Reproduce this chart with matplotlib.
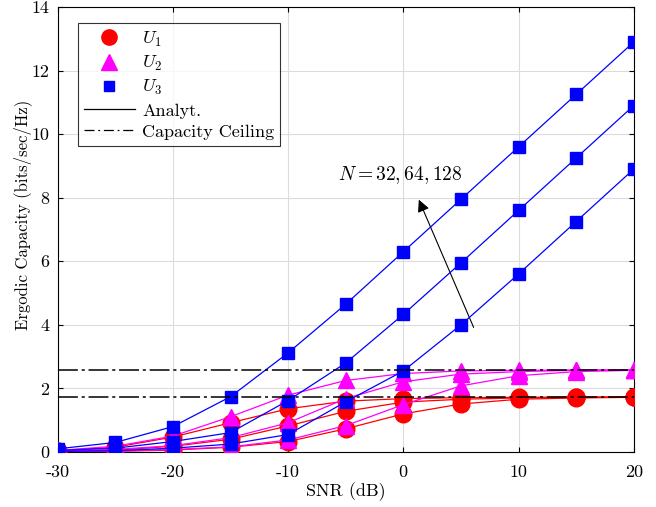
import numpy as np
import matplotlib
matplotlib.use("Agg")
import matplotlib.pyplot as plt

plt.rcParams['font.family'] = 'serif'
plt.rcParams['font.serif'] = ['cmr10', 'DejaVu Serif']
plt.rcParams['mathtext.fontset'] = 'cm'
plt.rcParams['axes.unicode_minus'] = False
plt.rcParams['axes.formatter.use_mathtext'] = False

snr = [-30, -25, -20, -15, -10, -5, 0, 5, 10, 15, 20]

# U1, N = 128, 64, 32
u1_n128 = [0.04, 0.15, 0.47, 0.92, 1.36, 1.60, 1.68, 1.71, 1.72, 1.73, 1.73]
u1_n64 = [0.02, 0.06, 0.18, 0.40, 0.82, 1.28, 1.57, 1.66, 1.70, 1.72, 1.73]
u1_n32 = [0.01, 0.02, 0.06, 0.15, 0.33, 0.73, 1.20, 1.51, 1.66, 1.70, 1.72]

# U2
u2_n128 = [0.05, 0.18, 0.50, 1.11, 1.79, 2.25, 2.47, 2.55, 2.57, 2.58, 2.58]
u2_n64 = [0.02, 0.08, 0.20, 0.45, 0.92, 1.68, 2.21, 2.45, 2.53, 2.57, 2.58]
u2_n32 = [0.01, 0.03, 0.08, 0.16, 0.38, 0.83, 1.49, 2.08, 2.40, 2.53, 2.57]

# U3
u3_n128 = [0.10, 0.30, 0.80, 1.74, 3.12, 4.65, 6.30, 7.95, 9.60, 11.25, 12.90]
u3_n64 = [0.05, 0.12, 0.33, 0.61, 1.62, 2.80, 4.33, 5.95, 7.60, 9.25, 10.90]
u3_n32 = [0.02, 0.04, 0.12, 0.25, 0.55, 1.58, 2.55, 4.00, 5.60, 7.25, 8.90]

ceiling_u1 = 1.73
ceiling_u2 = 2.58

dd = (13, 2.5, 2, 2.5)

fig = plt.figure(figsize=(6.56, 5.07), dpi=100)
ax = fig.add_axes([0.088, 0.1085, 0.878, 0.8775])

for y in (u1_n128, u1_n64, u1_n32):
    ax.plot(snr, y, color='red', lw=0.9, marker='o', ms=12,
            markeredgecolor='red', zorder=3)
for y in (u2_n128, u2_n64, u2_n32):
    ax.plot(snr, y, color='magenta', lw=0.9, marker='^', ms=12,
            markeredgecolor='magenta', zorder=4)
for y in (u3_n128, u3_n64, u3_n32):
    ax.plot(snr, y, color='blue', lw=0.9, marker='s', ms=8.5,
            markeredgecolor='blue', zorder=5)

ax.axhline(ceiling_u2, color='black', lw=1.1, ls='-.', dashes=dd, zorder=6)
ax.axhline(ceiling_u1, color='black', lw=1.1, ls='-.', dashes=dd, zorder=6)

# legend proxies
h1, = ax.plot([], [], 'o', color='red', ms=11)
h2, = ax.plot([], [], '^', color='magenta', ms=11)
h3, = ax.plot([], [], 's', color='blue', ms=7)
h4, = ax.plot([], [], '-', color='black', lw=0.9)
h5, = ax.plot([], [], color='black', lw=0.9, ls='-.', dashes=(8, 3, 1.5, 3))
leg = ax.legend([h1, h2, h3, h4, h5], ['$U_1$', '$U_2$', '$U_3$', 'Analyt.', 'Capacity Ceiling'],
                loc='upper left', bbox_to_anchor=(0.035, 0.964),
                fancybox=False, edgecolor='black', fontsize=13, handlelength=2.8,
                borderpad=0.35, labelspacing=0.3, handletextpad=0.4, borderaxespad=0)
leg.get_frame().set_linewidth(0.8)

ax.annotate('', xy=(1.25, 8.02), xytext=(6.2, 3.84),
            arrowprops=dict(arrowstyle='-|>', color='black', lw=0.8, mutation_scale=18))
ax.text(-0.3, 8.7, '$N=32,64,128$', fontsize=14, ha='center', va='center')

ax.set_xlim(-30, 20)
ax.set_ylim(0, 14)
ax.set_xticks([-30, -20, -10, 0, 10, 20])
ax.set_yticks(np.arange(0, 15, 2))
ax.grid(True, color='#dcdcdc', lw=0.8)
ax.set_axisbelow(True)
ax.tick_params(direction='in', top=True, right=True, labelsize=13)
ax.tick_params(axis='x', pad=9)
ax.tick_params(axis='y', pad=6)
for s in ax.spines.values():
    s.set_linewidth(0.8)
ax.set_xlabel('SNR (dB)', fontsize=13, labelpad=2)
ax.set_ylabel('Ergodic Capacity (bits/sec/Hz)', fontsize=12)
ax.yaxis.set_label_coords(-0.045, 0.533)

fig.savefig('out.png', dpi=100)
